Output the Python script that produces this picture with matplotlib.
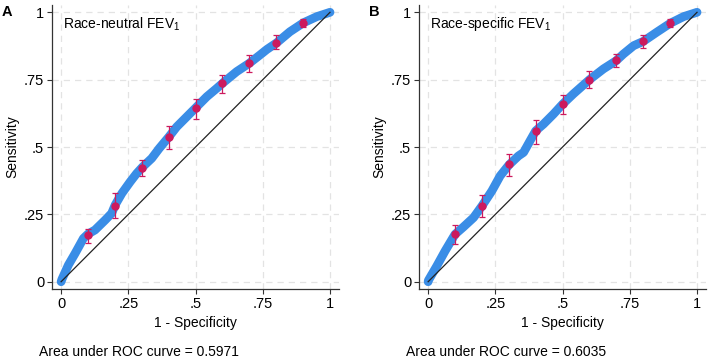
import numpy as np
import matplotlib
matplotlib.use('Agg')
import matplotlib.pyplot as plt

plt.rcParams['font.family'] = ['Liberation Sans', 'DejaVu Sans']
plt.rcParams['mathtext.fontset'] = 'custom'
plt.rcParams['mathtext.rm'] = 'Liberation Sans'

# ROC curve, race-neutral (A)
fpr_a = [0, 0.003, 0.027, 0.052, 0.083, 0.10, 0.126, 0.164, 0.188, 0.201, 0.226,
         0.257, 0.281, 0.302, 0.337, 0.365, 0.401, 0.430, 0.467, 0.501, 0.542,
         0.579, 0.603, 0.653, 0.700, 0.740, 0.765, 0.802, 0.851, 0.901, 0.951, 1.0]
tpr_a = [0, 0.009, 0.062, 0.105, 0.161, 0.177, 0.192, 0.229, 0.254, 0.285, 0.328,
         0.371, 0.402, 0.425, 0.458, 0.495, 0.538, 0.575, 0.612, 0.646, 0.687,
         0.718, 0.739, 0.780, 0.811, 0.842, 0.862, 0.887, 0.928, 0.961, 0.984, 1.0]

# ROC curve, race-specific (B)
fpr_b = [0, 0.001, 0.032, 0.063, 0.10, 0.131, 0.169, 0.20, 0.237, 0.268, 0.301,
         0.336, 0.355, 0.379, 0.40, 0.429, 0.466, 0.50, 0.54, 0.60, 0.652, 0.699,
         0.726, 0.764, 0.80, 0.85, 0.90, 0.95, 1.0]
tpr_b = [0, 0.005, 0.058, 0.114, 0.176, 0.203, 0.238, 0.281, 0.337, 0.393, 0.434,
         0.467, 0.480, 0.523, 0.560, 0.585, 0.622, 0.659, 0.697, 0.750, 0.790, 0.820,
         0.845, 0.876, 0.892, 0.926, 0.959, 0.984, 1.0]

# sensitivity with 95% CI at fixed 1-specificity
ci_x = [0.1, 0.2, 0.3, 0.4, 0.5, 0.6, 0.7, 0.8, 0.9]
ci_y_a = [0.172, 0.282, 0.423, 0.537, 0.645, 0.738, 0.813, 0.887, 0.962]
ci_lo_a = [0.142, 0.235, 0.391, 0.494, 0.605, 0.702, 0.777, 0.862, 0.947]
ci_hi_a = [0.197, 0.330, 0.450, 0.577, 0.679, 0.769, 0.841, 0.916, 0.975]
ci_y_b = [0.176, 0.282, 0.437, 0.558, 0.660, 0.750, 0.823, 0.892, 0.960]
ci_lo_b = [0.141, 0.241, 0.394, 0.511, 0.623, 0.719, 0.796, 0.866, 0.944]
ci_hi_b = [0.209, 0.322, 0.474, 0.602, 0.693, 0.781, 0.845, 0.916, 0.975]

ticks = [0, 0.25, 0.5, 0.75, 1]
tick_labels = ['0', '.25', '.5', '.75', '1']

panels = [
    ('A', 'Race-neutral FEV$_\\mathrm{1}$', 'Area under ROC curve = 0.5971',
     fpr_a, tpr_a, ci_y_a, ci_lo_a, ci_hi_a, 0.0734),
    ('B', 'Race-specific FEV$_\\mathrm{1}$', 'Area under ROC curve = 0.6035',
     fpr_b, tpr_b, ci_y_b, ci_lo_b, ci_hi_b, 0.5918),
]

fig = plt.figure(figsize=(7.08, 3.59), dpi=100)
blue = '#3a8de6'
red = '#cc1a5e'

for letter, title, auc, fpr, tpr, cy, clo, chi, left in panels:
    ax = fig.add_axes([left, 0.195, 0.406, 0.791])
    ax.set_xlim(-0.034, 1.035)
    ax.set_ylim(-0.027, 1.027)
    ax.set_xticks(ticks)
    ax.set_xticklabels(tick_labels)
    ax.set_yticks(ticks)
    ax.set_yticklabels(tick_labels)
    ax.grid(True, color='#e3e3e3', linestyle=(0, (5, 4)), linewidth=0.9)
    ax.set_axisbelow(True)
    for s in ['top', 'right']:
        ax.spines[s].set_visible(False)
    for s in ['left', 'bottom']:
        ax.spines[s].set_color('#333333')
        ax.spines[s].set_linewidth(0.9)
    ax.tick_params(length=3.6, width=0.8, color='#333333', labelsize=10.5, pad=2)

    ax.plot(fpr, tpr, color=blue, lw=6.3, solid_capstyle='round',
            solid_joinstyle='round', zorder=2)
    ax.plot([0, 1], [0, 1], color='#222222', lw=0.9, zorder=3)
    yerr = [np.array(cy) - np.array(clo), np.array(chi) - np.array(cy)]
    ax.errorbar(ci_x, cy, yerr=yerr, fmt='o', color=red, ms=5,
                elinewidth=0.9, capsize=2.3, capthick=0.9, zorder=4)

    ax.text(0.007, 0.955, title, fontsize=10, va='center', ha='left')
    ax.set_xlabel('1 - Specificity', fontsize=10, labelpad=4)
    ax.set_ylabel('Sensitivity', fontsize=10, labelpad=3)
    fig.text(left - 0.0705, 0.985, letter, fontsize=10.5, fontweight='bold',
             va='top', ha='left')
    fig.text(left - 0.019, 0.0, auc, fontsize=10, va='bottom', ha='left')

fig.savefig('out.png', dpi=100)
